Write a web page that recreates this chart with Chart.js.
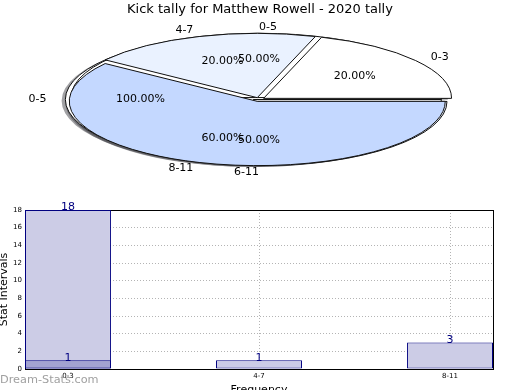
<!DOCTYPE html>
<html>
<head>
<meta charset="utf-8">
<script src="https://cdn.jsdelivr.net/npm/chart.js@4"></script>
<style>
html, body { margin: 0; padding: 0; background: #fff; width: 520px; height: 390px; overflow: hidden; }
#pie { position: absolute; left: 0; top: 0; }
#bars { position: absolute; left: 0; top: 195px; }
#mark { position: absolute; left: 0; top: 372px; font: 11.3px "DejaVu Sans"; line-height: 16px; color: #a0a0a0; white-space: nowrap; }
</style>
</head>
<body>
<canvas id="pie" width="520" height="195"></canvas>
<canvas id="bars" width="520" height="210"></canvas>
<div id="mark">Dream-Stats.com</div>
<script>
// chart values
const pieTitle = 'Kick tally for Matthew Rowell - 2020 tally';
const pieLabelsA = ['0-3', '4-7', '8-11'];
const pieValuesA = [20, 20, 60];
const pieLabelsB = ['0-5', '6-11'];
const pieValuesB = [50, 50];
const pieLabelsC = ['0-5'];
const pieValuesC = [100];

const barCategories = ['0-3', '4-7', '8-11'];
const barValues = [18, 1, 3];
const barOverlay = [1, null, null];

// pie geometry (the pie is drawn squashed, like a tilted disc)
const cx = 259, cy = 99.5, R = 188, squash = 0.342, explode = 0.03;
const sliceColors = ['#ffffff', '#eaf2ff', '#c4d8ff'];
const FONT = 'DejaVu Sans';

function toEllipse(ctx) {
    ctx.translate(cx, cy);
    ctx.scale(1, -squash);
    ctx.translate(-cx, -cy);
}

// keep line widths even after the squash
const rawStroke = CanvasRenderingContext2D.prototype.stroke;
function flatStroke(...args) {
    this.save();
    this.setTransform(1, 0, 0, 1, 0, 0);
    rawStroke.apply(this, args);
    this.restore();
}

const ellipsePie = {
    id: 'ellipsePie',
    beforeDatasetsDraw(chart) {
        const ctx = chart.ctx;
        const metas = chart.getSortedVisibleDatasetMetas();
        // every dataset is a full pie on the same centre, slices pushed out a bit
        metas.forEach(meta => meta.data.forEach(arc => {
            const mid = (arc.startAngle + arc.endAngle) / 2;
            arc.x = cx + explode * R * Math.cos(mid);
            arc.y = cy + explode * R * Math.sin(mid);
            arc.innerRadius = 0;
            arc.outerRadius = R;
        }));

        // shadows first, under all wedges
        ctx.save();
        ctx.translate(-0.02 * R, 0.02 * R * squash);
        toEllipse(ctx);
        for (let i = metas.length - 1; i >= 0; i--) {
            metas[i].data.forEach(arc => {
                const o = arc.options;
                arc.options = Object.assign({}, o, { backgroundColor: 'rgba(70,70,76,0.5)', borderWidth: 0 });
                arc.draw(ctx);
                arc.options = o;
            });
        }
        ctx.restore();

        ctx.save();
        toEllipse(ctx);
        ctx.stroke = flatStroke;
    },
    afterDatasetsDraw(chart) {
        const ctx = chart.ctx;
        delete ctx.stroke;
        ctx.restore();

        // slice labels and percentages, placed the way matplotlib does
        ctx.save();
        ctx.font = '11px "' + FONT + '"';
        ctx.fillStyle = '#000';
        ctx.textBaseline = 'middle';
        chart.getSortedVisibleDatasetMetas().forEach(meta => {
            const ds = chart.data.datasets[meta.index];
            const total = ds.data.reduce((a, b) => a + b, 0);
            meta.data.forEach((arc, i) => {
                const mid = (arc.startAngle + arc.endAngle) / 2;
                const c = Math.cos(mid), s = Math.sin(mid);
                const ox = explode * R * c, oy = explode * R * s;
                const lx = ox + 1.1 * R * c, ly = oy + 1.1 * R * s;
                ctx.textAlign = lx > 0 ? 'left' : 'right';
                ctx.fillText(ds.sliceLabels[i], cx + lx, cy - squash * ly);
                const px = ox + 0.6 * R * c, py = oy + 0.6 * R * s;
                ctx.textAlign = 'center';
                ctx.fillText((ds.data[i] / total * 100).toFixed(2) + '%', cx + px, cy - squash * py);
            });
        });
        ctx.restore();
    }
};

new Chart(document.getElementById('pie'), {
    type: 'pie',
    data: {
        datasets: [
            { data: pieValuesA, sliceLabels: pieLabelsA, backgroundColor: sliceColors },
            { data: pieValuesB, sliceLabels: pieLabelsB, backgroundColor: sliceColors },
            { data: pieValuesC, sliceLabels: pieLabelsC, backgroundColor: sliceColors }
        ]
    },
    options: {
        responsive: false,
        animation: false,
        events: [],
        rotation: 90,
        clip: false,
        elements: { arc: { borderColor: '#111', borderWidth: 1 } },
        plugins: {
            legend: { display: false },
            tooltip: { enabled: false },
            title: {
                display: true,
                text: pieTitle,
                color: '#000',
                font: { family: FONT, size: 13, weight: 'normal' },
                padding: { top: 2, bottom: 0 }
            }
        }
    },
    plugins: [ellipsePie]
});

// numbers on top of the bars
const barValueLabels = {
    id: 'barValueLabels',
    afterDatasetsDraw(chart) {
        const ctx = chart.ctx;
        ctx.save();
        ctx.font = '11px "' + FONT + '"';
        ctx.fillStyle = '#000080';
        ctx.textAlign = 'center';
        ctx.textBaseline = 'middle';
        chart.getSortedVisibleDatasetMetas().forEach(meta => {
            const ds = chart.data.datasets[meta.index];
            meta.data.forEach((bar, i) => {
                const v = ds.data[i].y;
                if (v == null) return;
                ctx.fillText(String(v), bar.x, bar.y - 2.5);
            });
        });
        ctx.restore();
    }
};

const tickFont = { family: FONT, size: 7 };
const titleFont = { family: FONT, size: 11 };

new Chart(document.getElementById('bars'), {
    type: 'bar',
    data: {
        datasets: [
            {
                data: barOverlay.map((v, i) => ({ x: i, y: v })),
                backgroundColor: '#a3a3d1',
                borderColor: '#000080',
                borderWidth: 1,
                borderSkipped: false,
                order: 1
            },
            {
                data: barValues.map((v, i) => ({ x: i, y: v })),
                backgroundColor: '#ccccE6',
                borderColor: '#000080',
                borderWidth: 1,
                borderSkipped: false,
                order: 2
            }
        ]
    },
    options: {
        responsive: false,
        animation: false,
        events: [],
        categoryPercentage: 1,
        barPercentage: 0.45,
        layout: { padding: { left: 0, right: 27, top: 15, bottom: 0 } },
        plugins: { legend: { display: false }, tooltip: { enabled: false } },
        scales: {
            x: {
                type: 'linear',
                min: -0.225,
                max: 2.225,
                offset: false,
                stacked: true,
                z: 1,
                afterBuildTicks: s => { s.ticks = barCategories.map((_, i) => ({ value: i })); },
                afterFit: s => { s.height = 36; },
                ticks: { callback: v => barCategories[v], font: tickFont, color: '#000', padding: 3, maxRotation: 0, autoSkip: false },
                grid: { color: '#b4b4b4', drawTicks: false, offset: false },
                border: { color: '#000', dash: [1, 2] },
                title: { display: true, text: 'Frequency', color: '#000', font: titleFont, padding: { top: 0, bottom: 8.4 } }
            },
            y: {
                min: 0,
                max: 18,
                afterFit: s => { s.width = 25; },
                ticks: { stepSize: 2, font: tickFont, color: '#000', padding: 3 },
                grid: { color: '#b4b4b4', drawTicks: false },
                border: { color: '#000', dash: [1, 2] },
                title: { display: true, text: 'Stat Intervals', color: '#000', font: titleFont, padding: { top: -2, bottom: 0 } }
            },
            xTop: {
                type: 'linear',
                position: 'top',
                offset: false,
                afterFit: s => { s.height = 0; },
                ticks: { display: false },
                grid: { display: false },
                border: { color: '#000' }
            },
            yRight: {
                type: 'linear',
                position: 'right',
                afterFit: s => { s.width = 0; },
                ticks: { display: false },
                grid: { display: false },
                border: { color: '#000' }
            }
        }
    },
    plugins: [barValueLabels]
});
</script>
</body>
</html>
